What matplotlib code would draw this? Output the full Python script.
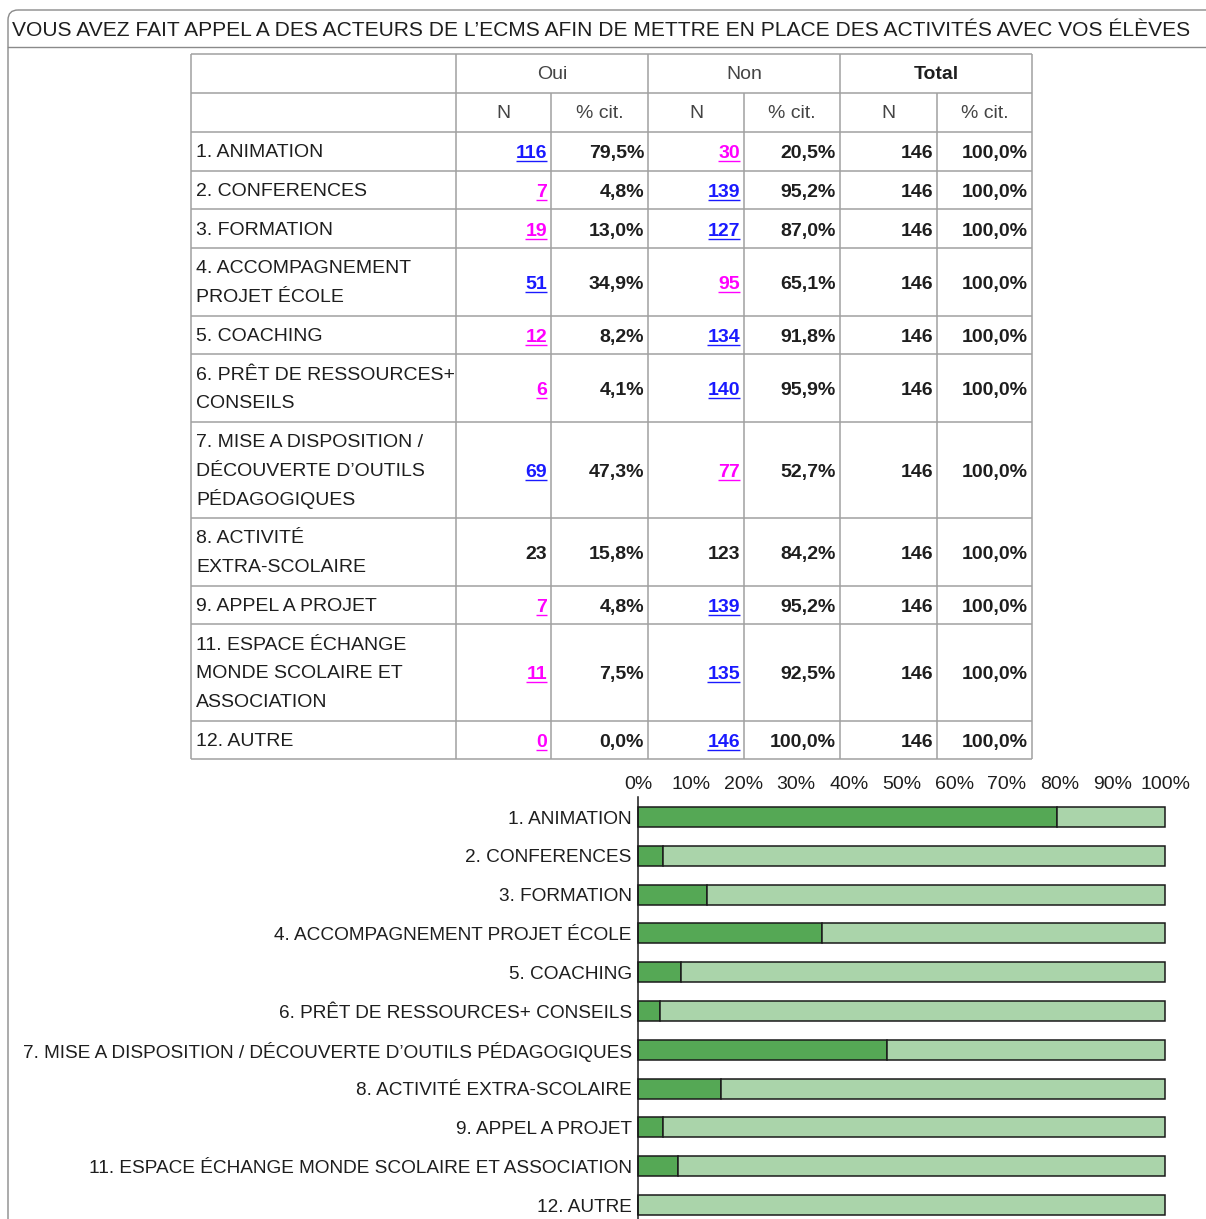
import matplotlib
matplotlib.use("Agg")
import matplotlib.pyplot as plt
from matplotlib.patches import FancyBboxPatch

plt.rcParams["font.family"] = ["Liberation Sans", "DejaVu Sans"]

TITLE = "VOUS AVEZ FAIT APPEL A DES ACTEURS DE L’ECMS AFIN DE METTRE EN PLACE DES ACTIVITÉS AVEC VOS ÉLÈVES"

row_labels = [
    "1. ANIMATION",
    "2. CONFERENCES",
    "3. FORMATION",
    "4. ACCOMPAGNEMENT\nPROJET ÉCOLE",
    "5. COACHING",
    "6. PRÊT DE RESSOURCES+\nCONSEILS",
    "7. MISE A DISPOSITION /\nDÉCOUVERTE D’OUTILS\nPÉDAGOGIQUES",
    "8. ACTIVITÉ\nEXTRA-SCOLAIRE",
    "9. APPEL A PROJET",
    "11. ESPACE ÉCHANGE\nMONDE SCOLAIRE ET\nASSOCIATION",
    "12. AUTRE",
]
bar_labels = [lab.replace("\n", " ") for lab in row_labels]

oui_n = [116, 7, 19, 51, 12, 6, 69, 23, 7, 11, 0]
oui_pct = [79.5, 4.8, 13.0, 34.9, 8.2, 4.1, 47.3, 15.8, 4.8, 7.5, 0.0]
non_n = [30, 139, 127, 95, 134, 140, 77, 123, 139, 135, 146]
non_pct = [20.5, 95.2, 87.0, 65.1, 91.8, 95.9, 52.7, 84.2, 95.2, 92.5, 100.0]
total_n = [146] * 11
total_pct = [100.0] * 11

# lien hypertexte : b = bleu, m = magenta, None = pas de lien
oui_link = ["b", "m", "m", "b", "m", "m", "b", None, "m", "m", "m"]
non_link = ["m", "b", "b", "m", "b", "b", "m", None, "b", "b", "b"]

W, H = 1206, 1219
LINK_COLORS = {"b": "#1a1aff", "m": "#ff00ff"}
GRID = "#a0a0a0"
TXT = "#1e1e1e"
DARK = "#55a855"
LIGHT = "#aad4aa"
FS = 14
LINE_H = 28.8


def fmt_pct(v):
    return f"{v:.1f}".replace(".", ",") + "%"


fig = plt.figure(figsize=(W / 100, H / 100), dpi=100)
fig.patch.set_facecolor("white")
ax = fig.add_axes([0, 0, 1, 1])
ax.set_xlim(0, W)
ax.set_ylim(H, 0)
ax.axis("off")

# cadre arrondi + titre
frame = FancyBboxPatch((8, 10), 1400, 1400, boxstyle="round,pad=0,rounding_size=10",
                       fc="none", ec="#8a8a8a", lw=1.0)
ax.add_patch(frame)
ax.plot([8, W], [47, 47], color="#8a8a8a", lw=1.0)
ax.text(12, 30, TITLE, fontsize=15.1, color=TXT, ha="left", va="center")

# tableau
cols = [191, 456, 551, 648, 744, 840, 937, 1032]
head = [54, 93, 132]
edges = [132]
for lab in row_labels:
    n = lab.count("\n") + 1
    edges.append(edges[-1] + 38.7 + (n - 1) * LINE_H)

lw_grid = 1.1
top, bottom = head[0], edges[-1]
for y in head + edges[1:]:
    ax.plot([cols[0], cols[-1]], [y, y], color=GRID, lw=lw_grid, solid_capstyle="butt")
for i, x in enumerate(cols):
    y0 = head[1] if i in (2, 4, 6) else top
    ax.plot([x, x], [y0, bottom], color=GRID, lw=lw_grid, solid_capstyle="butt")

hy1 = (head[0] + head[1]) / 2 + 1
hy2 = (head[1] + head[2]) / 2 + 1
ax.text((cols[1] + cols[3]) / 2, hy1, "Oui", fontsize=FS, color="#444444", ha="center", va="center")
ax.text((cols[3] + cols[5]) / 2, hy1, "Non", fontsize=FS, color="#444444", ha="center", va="center")
ax.text((cols[5] + cols[7]) / 2, hy1, "Total", fontsize=FS, color=TXT, ha="center", va="center",
        fontweight="bold")
for k in range(3):
    ax.text((cols[1 + 2 * k] + cols[2 + 2 * k]) / 2, hy2, "N", fontsize=FS, color="#444444",
            ha="center", va="center")
    ax.text((cols[2 + 2 * k] + cols[3 + 2 * k]) / 2, hy2, "% cit.", fontsize=FS, color="#444444",
            ha="center", va="center")

links = []
for i, lab in enumerate(row_labels):
    yc = (edges[i] + edges[i + 1]) / 2
    lines = lab.split("\n")
    for k, line in enumerate(lines):
        yl = yc + (k - (len(lines) - 1) / 2) * LINE_H
        ax.text(cols[0] + 5, yl + 6, line, fontsize=FS, color=TXT, ha="left", va="baseline")
    cells = [
        (str(oui_n[i]), oui_link[i]),
        (fmt_pct(oui_pct[i]), None),
        (str(non_n[i]), non_link[i]),
        (fmt_pct(non_pct[i]), None),
        (str(total_n[i]), None),
        (fmt_pct(total_pct[i]), None),
    ]
    for j, (s, link) in enumerate(cells):
        color = LINK_COLORS[link] if link else TXT
        t = ax.text(cols[j + 2] - 4, yc + 7, s, fontsize=FS, color=color, ha="right", va="baseline",
                    fontweight="bold")
        if link:
            links.append((t, color, yc))

# soulignement des liens
fig.canvas.draw()
renderer = fig.canvas.get_renderer()
inv = ax.transData.inverted()
for t, color, yc in links:
    bb = t.get_window_extent(renderer)
    (x0, _), (x1, _) = inv.transform([(bb.x0, bb.y0), (bb.x1, bb.y1)])
    ax.plot([x0, x1], [yc + 10, yc + 10], color=color, lw=1.0, solid_capstyle="butt")

# graphique en barres empilées
ax_top, ax_left, ax_right = 797, 638, 1165
step, first = 38.8, 817
ax2 = fig.add_axes([ax_left / W, 0, (ax_right - ax_left) / W, (H - ax_top) / H])
ypos = list(range(len(bar_labels)))
ax2.barh(ypos, oui_pct, height=0.52, color=DARK, edgecolor="#1a1a1a", lw=1.1, clip_on=False)
ax2.barh(ypos, non_pct, left=oui_pct, height=0.52, color=LIGHT, edgecolor="#1a1a1a", lw=1.1,
         clip_on=False)
ax2.set_xlim(0, 100)
ax2.set_ylim((H - first) / step, -(first - ax_top) / step)
ax2.xaxis.tick_top()
ax2.set_xticks(range(0, 101, 10))
ax2.set_xticklabels([f"{v}%" for v in range(0, 101, 10)], fontsize=FS, color=TXT)
ax2.set_yticks(ypos)
ax2.set_yticklabels(bar_labels, fontsize=13.7, color=TXT)
ax2.tick_params(axis="x", length=0, pad=3)
ax2.tick_params(axis="y", length=0, pad=4.5)
for side in ("top", "right", "bottom"):
    ax2.spines[side].set_visible(False)
ax2.spines["left"].set_linewidth(1.1)
ax2.spines["left"].set_color("#1a1a1a")
ax2.patch.set_alpha(0)

fig.savefig("out.png", dpi=100)
